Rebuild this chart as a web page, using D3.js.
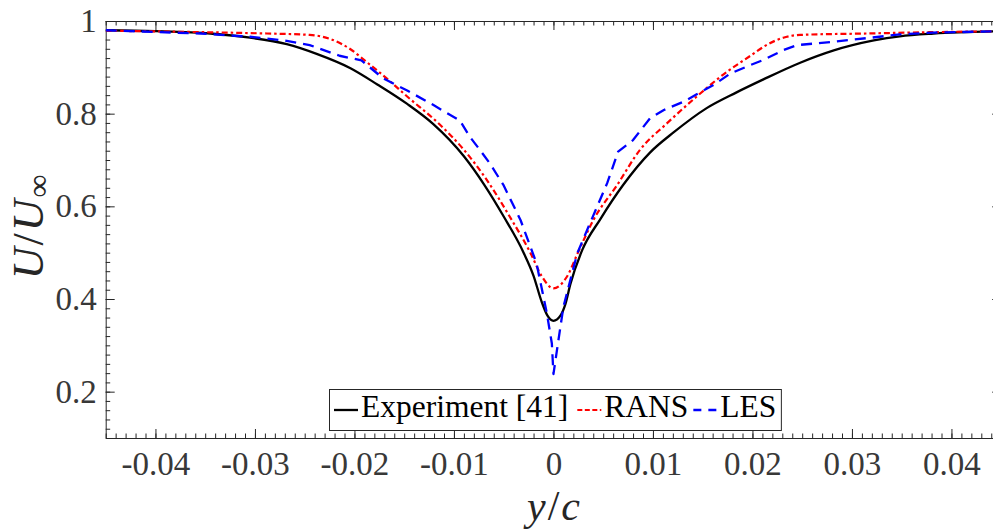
<!DOCTYPE html>
<html><head><meta charset="utf-8">
<script src="https://cdn.jsdelivr.net/npm/d3@7/dist/d3.min.js"></script>
<style>body{margin:0;background:#fff}svg{display:block}</style>
</head><body>
<svg id="chart" width="993" height="530"></svg>
<script>
// ---- data ----
const expY  = [-0.045,-0.0400,-0.0345,-0.0305,-0.0268,-0.0238,-0.0204,-0.0177,-0.0147,-0.0121,-0.0090,-0.0070,-0.0050,-0.0030,-0.0020,-0.0012,-0.0006,0,0.0007,0.0012,0.0017,0.0029,0.0047,0.0070,0.0097,0.0121,0.0154,0.0184,0.0211,0.0248,0.0281,0.0322,0.0348,0.0382,0.045];
const expU  = [0.980,0.978,0.973,0.964,0.950,0.929,0.898,0.863,0.821,0.778,0.708,0.648,0.578,0.500,0.450,0.395,0.364,0.353,0.364,0.389,0.432,0.506,0.572,0.646,0.716,0.760,0.812,0.846,0.874,0.910,0.936,0.958,0.967,0.973,0.978];
const ransY = [-0.045,-0.0355,-0.0288,-0.0245,-0.0224,-0.0204,-0.0188,-0.0167,-0.0147,-0.0114,-0.0090,-0.0067,-0.0044,-0.0023,-0.0012,0,0.00135,0.0025,0.0040,0.0064,0.0087,0.0114,0.0144,0.0171,0.0198,0.0214,0.0231,0.0248,0.0315,0.0382,0.045];
const ransU = [0.979,0.976,0.973,0.970,0.961,0.939,0.912,0.875,0.837,0.776,0.722,0.657,0.578,0.499,0.450,0.423,0.448,0.502,0.570,0.646,0.722,0.779,0.837,0.885,0.925,0.948,0.964,0.970,0.973,0.976,0.978];
const lesY  = [-0.045,-0.0355,-0.0305,-0.0268,-0.0245,-0.0215,-0.0193,-0.0171,-0.0147,-0.0121,-0.0094,-0.0084,-0.0074,-0.0064,-0.0050,-0.0033,-0.0017,-0.00066,-0.00016,0,0.0005,0.0010,0.0024,0.0040,0.0054,0.0065,0.0080,0.0097,0.0111,0.0131,0.0144,0.0161,0.0178,0.0198,0.0211,0.0231,0.0245,0.0281,0.0315,0.0348,0.0382,0.045];
const lesU  = [0.980,0.973,0.966,0.957,0.948,0.925,0.915,0.876,0.850,0.819,0.785,0.750,0.722,0.693,0.645,0.570,0.477,0.369,0.304,0.238,0.311,0.383,0.499,0.580,0.650,0.718,0.743,0.790,0.808,0.826,0.842,0.862,0.887,0.905,0.916,0.937,0.948,0.955,0.963,0.971,0.975,0.978];
const seriesNames = ["Experiment [41]","RANS","LES"];
const xTickValues = [-0.04,-0.03,-0.02,-0.01,0,0.01,0.02,0.03,0.04];
const xTickLabels = ["-0.04","-0.03","-0.02","-0.01","0","0.01","0.02","0.03","0.04"];
const yTickValues = [0.2,0.4,0.6,0.8,1];
const yTickLabels = ["0.2","0.4","0.6","0.8","1"];

// ---- layout ----
const L = 105.7, R = 1001.2, T = 21, B = 438;
const axisCol = "#262626";
const serif = "Liberation Serif, Times New Roman, serif";
const svg = d3.select("#chart");
const x = d3.scaleLinear().domain([-0.045, 0.045]).range([L, R]);
const y = d3.scaleLinear().domain([0.1, 1]).range([B, T]);

const xMinor = d3.range(-45, 46).map(d => d / 1000);
const yMinor = d3.range(5, 51).map(d => d / 50);

function styleAxis(g) {
  g.attr("font-family", serif).attr("font-size", 33);
  g.selectAll("line").attr("stroke", axisCol).attr("stroke-width", 1);
  g.selectAll("path").attr("stroke", axisCol).attr("stroke-width", 1);
  g.selectAll("text").attr("fill", "#383838");
}
function minor(axisFn, scale, vals, pos) {
  const g = svg.append("g").attr("transform", pos)
    .call(axisFn(scale).tickValues(vals).tickSize(-4.5).tickSizeOuter(0).tickFormat(""));
  g.select(".domain").remove();
  styleAxis(g);
}
minor(d3.axisBottom, x, xMinor, `translate(0,${B})`);
minor(d3.axisTop, x, xMinor, `translate(0,${T})`);
minor(d3.axisLeft, y, yMinor, `translate(${L},0)`);
minor(d3.axisRight, y, yMinor, `translate(${R},0)`);

const gx = svg.append("g").attr("transform", `translate(0,${B})`)
  .call(d3.axisBottom(x).tickValues(xTickValues).tickSize(-9).tickSizeOuter(0).tickPadding(14)
    .tickFormat((d, i) => xTickLabels[i]));
styleAxis(gx);
const gxt = svg.append("g").attr("transform", `translate(0,${T})`)
  .call(d3.axisTop(x).tickValues(xTickValues).tickSize(-9).tickSizeOuter(0).tickFormat(""));
styleAxis(gxt);
const gy = svg.append("g").attr("transform", `translate(${L},0)`)
  .call(d3.axisLeft(y).tickValues(yTickValues).tickSize(-9).tickSizeOuter(0).tickPadding(9)
    .tickFormat((d, i) => yTickLabels[i]));
styleAxis(gy);
const gyr = svg.append("g").attr("transform", `translate(${R},0)`)
  .call(d3.axisRight(y).tickValues(yTickValues).tickSize(-9).tickSizeOuter(0).tickFormat(""));
styleAxis(gyr);

// ---- lines ----
svg.append("clipPath").attr("id", "clip").append("rect")
  .attr("x", L).attr("y", T).attr("width", R - L).attr("height", B - T);
const plot = svg.append("g").attr("clip-path", "url(#clip)");
const series = [
  {xs: expY,  us: expU,  color: "#000000", dash: null,        w: 2.3, curve: d3.curveMonotoneX},
  {xs: ransY, us: ransU, color: "#ff0000", dash: "6,3,2.5,3", w: 2.2, curve: d3.curveMonotoneX},
  {xs: lesY,  us: lesU,  color: "#0000ff", dash: "11,7",      w: 2.3, curve: d3.curveLinear}
];
series.forEach(s => {
  const line = d3.line().x(d => x(d[0])).y(d => y(d[1])).curve(s.curve);
  plot.append("path")
    .datum(s.xs.map((v, i) => [v, s.us[i]]))
    .attr("d", line)
    .attr("fill", "none")
    .attr("stroke", s.color)
    .attr("stroke-width", s.w)
    .attr("stroke-linejoin", "round")
    .attr("stroke-dasharray", s.dash);
});

// ---- legend ----
const lg = svg.append("g");
const box = lg.append("rect").attr("x", 329.5).attr("y", 389.5).attr("height", 41)
  .attr("fill", "#fff").attr("stroke", axisCol).attr("stroke-width", 1);
let cx = 334;
const legendDash = [null, "5,2.5", "8,7"];
series.forEach((s, i) => {
  lg.append("line").attr("x1", cx).attr("x2", cx + 24).attr("y1", 410).attr("y2", 410)
    .attr("stroke", s.color).attr("stroke-width", s.w).attr("stroke-dasharray", legendDash[i]);
  const t = lg.append("text").attr("x", cx + 27).attr("y", 417)
    .attr("font-family", serif).attr("font-size", 31.5).attr("fill", "#000")
    .text(seriesNames[i]);
  const w = t.node().getComputedTextLength();
  cx = cx + 27 + w + (i === 0 ? 9 : 5);
});
box.attr("width", cx - 329.5);

// ---- axis labels ----
const yl = svg.append("text")
  .attr("transform", `translate(43,226) rotate(-90)`)
  .attr("text-anchor", "middle")
  .attr("font-family", serif).attr("font-size", 44).attr("fill", axisCol)
  .attr("letter-spacing", 2);
yl.append("tspan").attr("font-style", "italic").text("U");
yl.append("tspan").text("/");
yl.append("tspan").attr("font-style", "italic").text("U");
yl.append("tspan").attr("font-size", 32).attr("dy", 6).text("∞");

const xl = svg.append("text")
  .attr("x", 554.5).attr("y", 520)
  .attr("text-anchor", "middle")
  .attr("font-family", serif).attr("font-size", 42).attr("fill", axisCol)
  .attr("letter-spacing", 2);
xl.append("tspan").attr("font-style", "italic").text("y");
xl.append("tspan").text("/");
xl.append("tspan").attr("font-style", "italic").text("c");
</script>
</body></html>
